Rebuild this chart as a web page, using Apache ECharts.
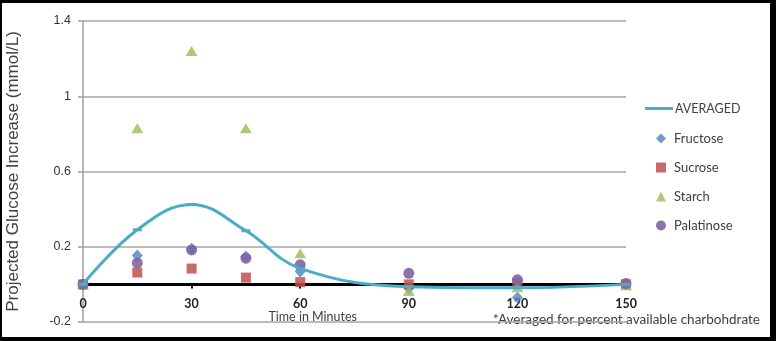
<!DOCTYPE html>
<html><head><meta charset="utf-8">
<script src="https://cdn.jsdelivr.net/npm/echarts@6/dist/echarts.min.js"></script>
<style>
html,body{margin:0;padding:0;background:#000;}
#wrap{position:relative;width:776px;height:341px;background:#000;}
#c{position:absolute;left:2px;top:3px;width:768px;height:334px;background:#fff;}
</style>
</head><body><div id="wrap"><div id="c"></div></div>
<script>
// Minutes after intake and projected glucose rise (mmol/L) per carbohydrate
const minutes    = [0, 15, 30, 45, 60, 90, 120, 150];
const averaged   = [0, 0.29, 0.425, 0.285, 0.085, -0.012, -0.018, 0];
const fructose   = [0, 0.153, 0.19, 0.148, 0.068, -0.02, -0.07, 0];
const sucrose    = [0, 0.063, 0.084, 0.036, 0.012, 0, 0.005, 0];
const starch     = [0, 0.83, 1.24, 0.83, 0.165, -0.035, -0.015, -0.005];
const palatinose = [0, 0.114, 0.183, 0.139, 0.104, 0.059, 0.024, 0.005];
const xTicks = [0, 30, 60, 90, 120, 150];
const yTicks = [-0.2, 0.2, 0.6, 1, 1.4];

const pairs = vals => minutes.map((m, i) => [m, vals[i]]);
const txt = '#404040';
const cal = 'Lato, "Open Sans", sans-serif';

const chart = echarts.init(document.getElementById('c'), null, {renderer: 'canvas'});
chart.setOption({
  animation: false,
  backgroundColor: '#fff',
  grid: {left: 81, right: 144, top: 18, bottom: 15, outerBoundsMode: 'none', containLabel: false},
  xAxis: {
    type: 'value',
    min: xTicks[0], max: xTicks[xTicks.length - 1], interval: xTicks[1] - xTicks[0],
    axisLine: {onZero: true, lineStyle: {color: '#000', width: 3}},
    axisTick: {show: true, length: 4, lineStyle: {color: '#000', width: 2}},
    // labels sit just under the zero line rather than under the plot floor
    axisLabel: {margin: -25, fontFamily: cal, fontWeight: 'bold', fontSize: 12.5, color: '#222'},
    splitLine: {show: false}
  },
  yAxis: {
    type: 'value',
    min: yTicks[0], max: yTicks[yTicks.length - 1], interval: yTicks[1] - yTicks[0],
    name: 'Projected Glucose Increase (mmol/L)',
    nameLocation: 'middle', nameGap: 61,
    nameTextStyle: {fontFamily: '"Liberation Sans", Arial, sans-serif', fontSize: 17, color: txt},
    axisLine: {show: true, onZero: false, lineStyle: {color: '#a0a0a0', width: 1.5}},
    axisTick: {show: true, length: 5, lineStyle: {color: '#a0a0a0', width: 1.5}},
    axisLabel: {margin: 12, fontFamily: '"Liberation Sans", Arial, sans-serif', fontSize: 12.5, color: '#333',
      formatter: v => String(Math.round(v * 10) / 10)},
    splitLine: {lineStyle: {color: '#a6a6a6', width: 1.5}}
  },
  legend: [
    {
      orient: 'vertical', left: 638, top: 94,
      itemWidth: 28, itemHeight: 3,
      textStyle: {fontFamily: cal, fontSize: 12.5, color: txt, padding: [0, 0, 0, -3]},
      data: [{name: 'AVERAGED', icon: 'rect'}]
    },
    {
      orient: 'vertical', left: 649, top: 124,
      itemWidth: 10, itemHeight: 10, itemGap: 16,
      textStyle: {fontFamily: cal, fontSize: 13, color: txt, padding: [0, 0, 0, 3]},
      data: ['Fructose', 'Sucrose', 'Starch', 'Palatinose']
    }
  ],
  series: [
    {name: 'AVERAGED', type: 'line', smooth: 0.4, data: pairs(averaged),
      symbol: 'rect', symbolSize: [9, 3], showSymbol: true,
      lineStyle: {color: '#4bacc6', width: 3}, itemStyle: {color: '#4bacc6'}},
    {name: 'Fructose', type: 'scatter', data: pairs(fructose), symbol: 'diamond', symbolSize: [11, 12],
      itemStyle: {color: '#4f81bd'}},
    {name: 'Sucrose', type: 'scatter', data: pairs(sucrose), symbol: 'rect', symbolSize: 10,
      itemStyle: {color: '#c0504d', opacity: 0.85}},
    {name: 'Starch', type: 'scatter', data: pairs(starch), symbol: 'triangle', symbolSize: [12, 10],
      itemStyle: {color: '#9bbb59'}},
    {name: 'Palatinose', type: 'scatter', data: pairs(palatinose), symbol: 'circle', symbolSize: 11,
      itemStyle: {color: '#8064a2', opacity: 0.9}}
  ],
  graphic: [
    {type: 'text', left: 311.5 - 45, top: 307,
      style: {text: 'Time in Minutes', fontFamily: cal, fontSize: 12.5, fill: txt}},
    {type: 'text', left: 480, top: 308,
      style: {text: '*Averaged for percent available charbohdrate', fontFamily: cal, fontSize: 13.5, fill: txt,
        backgroundColor: '#fff', padding: [2, 8, 2, 11]}}
  ]
});
</script>
</body></html>
